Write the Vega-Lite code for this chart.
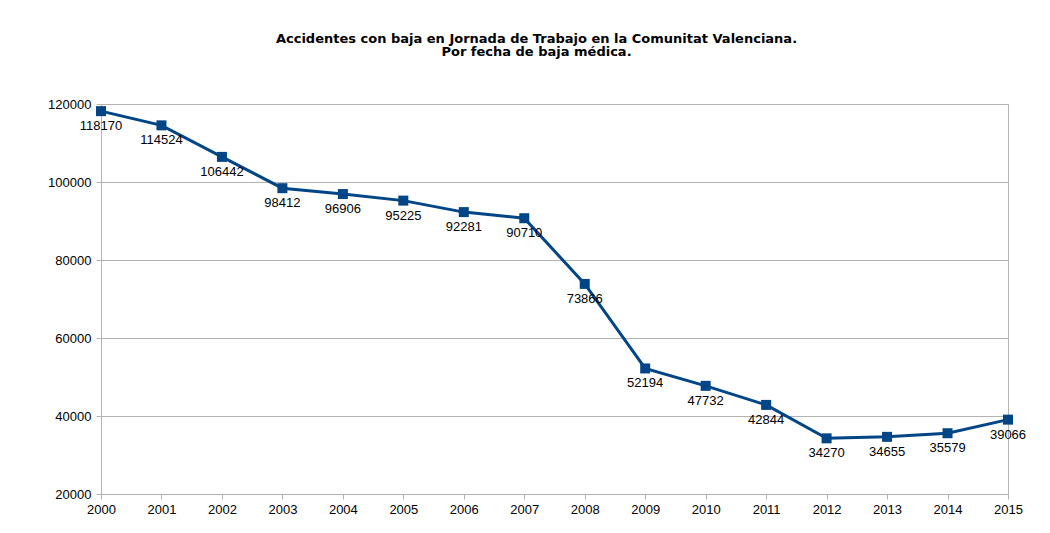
{
  "$schema": "https://vega.github.io/schema/vega-lite/v6.json",
  "autosize": "none",
  "width": 907,
  "height": 390,
  "padding": {"left": 101, "top": 104, "right": 42, "bottom": 39},
  "background": "white",
  "title": {
    "text": ["Accidentes con baja en Jornada de Trabajo en la Comunitat Valenciana.", "Por fecha de baja médica."],
    "anchor": "middle",
    "frame": "group",
    "dx": -18,
    "baseline": "bottom",
    "offset": 26,
    "font": "DejaVu Sans",
    "fontSize": 13,
    "fontWeight": "bold",
    "color": "#000",
    "lineHeight": 13.5
  },
  "config": {
    "view": {"stroke": "#b3b3b3", "strokeWidth": 1},
    "axis": {
      "labelFont": "Liberation Sans",
      "labelFontSize": 13,
      "labelColor": "#000",
      "domainColor": "#b3b3b3",
      "tickColor": "#b3b3b3",
      "gridColor": "#b3b3b3",
      "tickSize": 5,
      "labelFlush": false,
      "labelOverlap": false,
      "title": null
    }
  },
  "data": {
    "values": [
      {"year": 2000, "value": 118170},
      {"year": 2001, "value": 114524},
      {"year": 2002, "value": 106442},
      {"year": 2003, "value": 98412},
      {"year": 2004, "value": 96906},
      {"year": 2005, "value": 95225},
      {"year": 2006, "value": 92281},
      {"year": 2007, "value": 90710},
      {"year": 2008, "value": 73866},
      {"year": 2009, "value": 52194},
      {"year": 2010, "value": 47732},
      {"year": 2011, "value": 42844},
      {"year": 2012, "value": 34270},
      {"year": 2013, "value": 34655},
      {"year": 2014, "value": 35579},
      {"year": 2015, "value": 39066}
    ]
  },
  "encoding": {
    "x": {
      "field": "year",
      "type": "quantitative",
      "scale": {"domain": [2000, 2015], "nice": false, "zero": false},
      "axis": {"values": [2000,2001,2002,2003,2004,2005,2006,2007,2008,2009,2010,2011,2012,2013,2014,2015], "format": "d", "grid": false, "labelPadding": 4}
    },
    "y": {
      "field": "value",
      "type": "quantitative",
      "scale": {"domain": [20000, 120000], "nice": false, "zero": false},
      "axis": {"values": [20000, 40000, 60000, 80000, 100000, 120000], "format": "d", "grid": true, "labelPadding": 5}
    }
  },
  "layer": [
    {"mark": {"type": "line", "color": "#004586", "strokeWidth": 3}},
    {"mark": {"type": "square", "color": "#004586", "opacity": 1, "size": 100}},
    {
      "mark": {"type": "text", "dy": 15, "font": "Liberation Sans", "fontSize": 13, "color": "#000", "baseline": "middle"},
      "encoding": {"text": {"field": "value", "type": "quantitative", "format": "d"}}
    }
  ]
}
